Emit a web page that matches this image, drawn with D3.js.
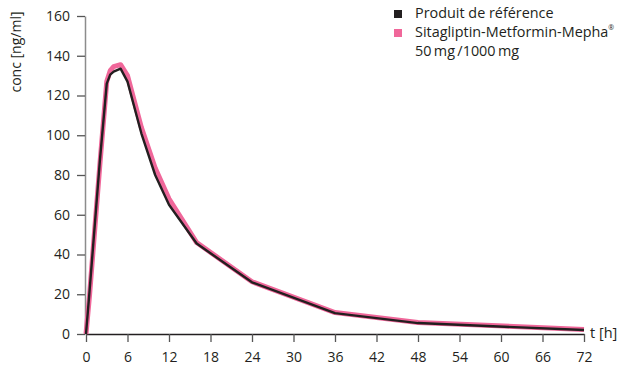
<!DOCTYPE html>
<html>
<head>
<meta charset="utf-8">
<script src="https://cdn.jsdelivr.net/npm/d3@7"></script>
<style>
  html, body { margin: 0; padding: 0; background: #fff; }
  svg { display: block; font-family: "Open Sans", "Noto Sans", sans-serif; }
</style>
</head>
<body>
<svg id="chart" width="622" height="369"></svg>
<script>
// Sampling times (h)
const times = [0, 0.5, 1, 1.5, 2, 3, 3.5, 4, 5, 6, 8, 10, 12, 16, 24, 36, 48, 72];
// Mean plasma concentrations (ng/ml)
const referenceConc = [0, 21, 43, 65, 87, 126, 130.5, 132, 133.5, 127, 101, 80, 65, 45.5, 26, 10.5, 5.5, 2];
const testConc      = [0, 19, 41, 63, 85, 127, 132.5, 134.5, 135.5, 130, 104, 83.5, 68, 46, 26.3, 10.8, 5.8, 2.3];

const xTicks = [0, 6, 12, 18, 24, 30, 36, 42, 48, 54, 60, 66, 72];
const yTicks = [0, 20, 40, 60, 80, 100, 120, 140, 160];

const seriesNames = ["Produit de référence", "Sitagliptin-Metformin-Mepha"];
const doseLabel = "50\u2009mg\u2009/1000\u2009mg";
const xTitle = "t [h]";
const yTitle = "conc [ng/ml]";

const colRef = "#231f20";
const colTest = "#f0679a";

const svg = d3.select("#chart");

const x = d3.scaleLinear().domain([0, 72]).range([86, 584]);
const y = d3.scaleLinear().domain([0, 160]).range([334, 16]);

// Y axis
const yAxis = svg.append("g")
  .attr("transform", "translate(85,0)")
  .call(d3.axisLeft(y).tickValues(yTicks).tickSize(8).tickSizeOuter(0).tickPadding(7));
yAxis.select(".domain").attr("stroke", "#8c8c8c").attr("stroke-width", 1.5);
yAxis.selectAll(".tick line").attr("stroke", "#555").attr("stroke-width", 1.3);
yAxis.selectAll(".tick text").attr("font-size", 14).attr("fill", "#231f20")
  .attr("font-family", "'Open Sans', sans-serif");

// X axis
const xAxis = svg.append("g")
  .attr("transform", "translate(0,334)")
  .call(d3.axisBottom(x).tickValues(xTicks).tickSize(8).tickSizeOuter(0).tickPadding(10));
xAxis.select(".domain").attr("stroke", "#231f20").attr("stroke-width", 1.5);
xAxis.selectAll(".tick line").attr("stroke", "#555").attr("stroke-width", 1.3);
xAxis.selectAll(".tick text").attr("font-size", 14).attr("fill", "#231f20")
  .attr("font-family", "'Open Sans', sans-serif");

// Axis titles
svg.append("text")
  .attr("x", x(72) + 6).attr("y", y(0))
  .attr("dy", "0.3em")
  .attr("font-size", 14.5).attr("fill", "#231f20")
  .text(xTitle);

svg.append("text")
  .attr("transform", `translate(21,${52}) rotate(-90)`)
  .attr("text-anchor", "middle")
  .attr("font-size", 14).attr("fill", "#231f20")
  .text(yTitle);

// Curves
const line = d3.line().x((d, i) => x(times[i])).y(d => y(d));

svg.append("path")
  .datum(testConc)
  .attr("fill", "none")
  .attr("stroke", colTest)
  .attr("stroke-width", 5)
  .attr("stroke-linejoin", "round")
  .attr("d", line);

svg.append("path")
  .datum(referenceConc)
  .attr("fill", "none")
  .attr("stroke", colRef)
  .attr("stroke-width", 2.4)
  .attr("stroke-linejoin", "round")
  .attr("d", line);

// Legend
const legend = svg.append("g").attr("transform", "translate(394,0)");
legend.append("rect").attr("x", 0).attr("y", 10).attr("width", 8).attr("height", 8).attr("fill", colRef);
legend.append("text").attr("x", 21).attr("y", 17.5).attr("font-size", 14.4).attr("fill", "#231f20")
  .text(seriesNames[0]);

legend.append("rect").attr("x", 0).attr("y", 29).attr("width", 8).attr("height", 8).attr("fill", colTest);
const t2 = legend.append("text").attr("x", 21).attr("y", 36.5).attr("font-size", 14.4).attr("fill", "#231f20");
t2.append("tspan").text(seriesNames[1]);
t2.append("tspan").attr("font-size", 7).attr("dy", "-0.9em").text("®");
legend.append("text").attr("x", 21).attr("y", 56.3).attr("font-size", 14.4).attr("fill", "#231f20")
  .text(doseLabel);
</script>
</body>
</html>
